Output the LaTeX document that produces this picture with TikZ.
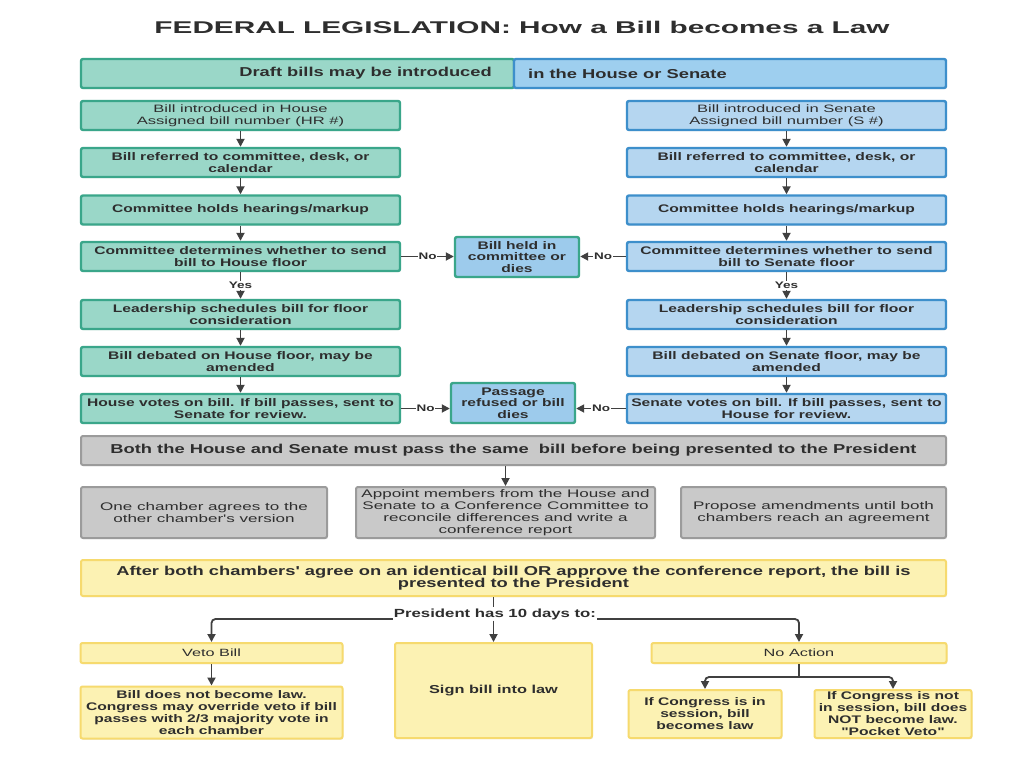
\documentclass[tikz,border=0pt]{standalone}
\usepackage{fontspec}
\setmainfont{Liberation Sans}
\newfontfamily\ttlfont{Liberation Sans}[FakeStretch=1.75]
\newfontfamily\bfont{Liberation Sans}[FakeStretch=1.42]
\newfontfamily\rfont{Liberation Sans}[FakeStretch=1.55]
\usetikzlibrary{arrows.meta,shadows}
\definecolor{txt}{HTML}{2E2E2E}
\definecolor{lnc}{HTML}{404040}
\definecolor{tealF}{HTML}{9AD7C8}
\definecolor{tealD}{HTML}{3AA68A}
\definecolor{blueF}{HTML}{B5D6F0}
\definecolor{blueD}{HTML}{3D8FCB}
\definecolor{bannerB}{HTML}{9ECFEF}
\definecolor{midF}{HTML}{9DCBEC}
\definecolor{grayF}{HTML}{C9C9C9}
\definecolor{grayD}{HTML}{9B9B9B}
\definecolor{yelF}{HTML}{FCF2B3}
\definecolor{yelD}{HTML}{F6DA6E}
\tikzset{
  box/.style={rectangle, rounded corners=2pt, line width=2.4pt, inner sep=0pt, align=center, text=txt,
    drop shadow={shadow xshift=0.8pt, shadow yshift=-1.2pt, opacity=0.18}},
  colbox/.style={box, minimum width=319pt, minimum height=29pt, font=\bfont\bfseries\fontsize{11}{12}\selectfont},
  hbox/.style={colbox, fill=tealF, draw=tealD},
  sbox/.style={colbox, fill=blueF, draw=blueD},
  midbox/.style={box, fill=midF, draw=tealD, minimum width=124pt, minimum height=40pt, font=\bfont\bfseries\fontsize{11}{11.5}\selectfont},
  graybox/.style={box, fill=grayF, draw=grayD, line width=2pt, minimum height=51pt, font=\rfont\fontsize{11}{12}\selectfont},
  yelbox/.style={box, fill=yelF, draw=yelD, line width=2pt, font=\bfont\bfseries\fontsize{11}{12}\selectfont},
  lab/.style={fill=white, inner sep=1pt, text=txt, font=\bfont\bfseries\fontsize{9.5}{9.5}\selectfont},
  ln/.style={draw=lnc, line width=1.8pt},
  arr/.style={ln, -{Triangle[length=8pt,width=8pt]}},
}
\begin{document}
\begin{tikzpicture}[x=1pt,y=-1pt]
\useasboundingbox[fill=white] (0,0) rectangle (1024,768);

\node[text=txt, font=\ttlfont\bfseries\fontsize{17}{20}\selectfont] (title) at (522,27) {FEDERAL LEGISLATION: How a Bill becomes a Law};

% top banner
\node[box, fill=tealF, draw=tealD, minimum width=433pt, minimum height=29pt] (bannerL) at (297.5,73.5) {};
\node[box, fill=bannerB, draw=blueD, minimum width=432pt, minimum height=29pt] (bannerR) at (730,73.5) {};
\node[anchor=east, inner sep=0pt, text=txt, font=\bfont\bfseries\fontsize{12.9}{13}\selectfont] (draftT) at (492,73.5) {Draft bills may be introduced};
\node[anchor=west, inner sep=0pt, text=txt, font=\bfont\bfseries\fontsize{12.9}{13}\selectfont] (houseT) at (528,73.5) {in the House or Senate};

% House column
\node[hbox, font=\rfont\fontsize{10.7}{12}\selectfont] (h1) at (240.5,115.5) {Bill introduced in House\\Assigned bill number (HR \#)};
\node[hbox] (h2) at (240.5,162.5) {Bill referred to committee, desk, or\\calendar};
\node[hbox] (h3) at (240.5,210) {Committee holds hearings/markup};
\node[hbox] (h4) at (240.5,256.5) {Committee determines whether to send\\bill to House floor};
\node[hbox] (h5) at (240.5,314.5) {Leadership schedules bill for floor\\consideration};
\node[hbox] (h6) at (240.5,361.5) {Bill debated on House floor, may be\\amended};
\node[hbox] (h7) at (240.5,408.5) {House votes on bill. If bill passes, sent to\\Senate for review.};

% Senate column
\node[sbox, font=\rfont\fontsize{10.7}{12}\selectfont] (s1) at (786.5,115.5) {Bill introduced in Senate\\Assigned bill number (S \#)};
\node[sbox] (s2) at (786.5,162.5) {Bill referred to committee, desk, or\\calendar};
\node[sbox] (s3) at (786.5,210) {Committee holds hearings/markup};
\node[sbox] (s4) at (786.5,256.5) {Committee determines whether to send\\bill to Senate floor};
\node[sbox] (s5) at (786.5,314.5) {Leadership schedules bill for floor\\consideration};
\node[sbox] (s6) at (786.5,361.5) {Bill debated on Senate floor, may be\\amended};
\node[sbox] (s7) at (786.5,408.5) {Senate votes on bill. If bill passes, sent to\\House for review.};

% middle
\node[midbox] (held) at (517,257) {Bill held in\\committee or\\dies};
\node[midbox] (pass) at (513,403) {Passage\\refused or bill\\dies};

% column arrows
\draw[arr] (h1) -- (h2);
\draw[arr] (h2) -- (h3);
\draw[arr] (h3) -- (h4);
\draw[arr] (h4) -- node[lab]{Yes} (h5);
\draw[arr] (h5) -- (h6);
\draw[arr] (h6) -- (h7);
\draw[arr] (s1) -- (s2);
\draw[arr] (s2) -- (s3);
\draw[arr] (s3) -- (s4);
\draw[arr] (s4) -- node[lab]{Yes} (s5);
\draw[arr] (s5) -- (s6);
\draw[arr] (s6) -- (s7);

\draw[arr] (h4.east) -- node[lab]{No} (h4.east -| held.west);
\draw[arr] (s4.west) -- node[lab]{No} (s4.west -| held.east);
\draw[arr] (h7.east) -- node[lab]{No} (h7.east -| pass.west);
\draw[arr] (s7.west) -- node[lab]{No} (s7.west -| pass.east);

% gray section
\node[graybox, minimum width=865pt, minimum height=29pt, font=\bfont\bfseries\fontsize{12.9}{13}\selectfont] (both) at (513.5,450.5) {Both the House and Senate must pass the same\ \ bill before being presented to the President};
\node[graybox, minimum width=246pt] (one) at (204,512.5) {One chamber agrees to the\\other chamber's version};
\node[graybox, minimum width=299pt] (appoint) at (505.5,512.5) {Appoint members from the House and\\Senate to a Conference Committee to\\reconcile differences and write a\\conference report};
\node[graybox, minimum width=265pt] (propose) at (813.5,512.5) {Propose amendments until both\\chambers reach an agreement};
\draw[arr] (appoint.north |- both.south) -- (appoint.north);

% yellow section
\node[yelbox, minimum width=865pt, minimum height=36pt, font=\bfont\bfseries\fontsize{12.9}{12.5}\selectfont] (yel) at (513.5,578) {After both chambers' agree on an identical bill OR approve the conference report, the bill is\\presented to the President};
\node[lab, font=\bfont\bfseries\fontsize{11.8}{12}\selectfont] (pres) at (495,614) {President has 10 days to:};
\node[yelbox, minimum width=262pt, minimum height=20pt, font=\rfont\fontsize{10.5}{12}\selectfont] (veto) at (211.5,653) {Veto Bill};
\node[yelbox, minimum width=197pt, minimum height=95pt, font=\bfont\bfseries\fontsize{11.5}{12}\selectfont] (sign) at (493.5,690.5) {Sign bill into law};
\node[yelbox, minimum width=295pt, minimum height=20pt, font=\rfont\fontsize{10.5}{12}\selectfont] (noact) at (799,653) {No Action};
\node[yelbox, minimum width=262pt, minimum height=52pt] (notlaw) at (211.5,712.5) {Bill does not become law.\\Congress may override veto if bill\\passes with 2/3 majority vote in\\each chamber};
\node[yelbox, minimum width=153pt, minimum height=48pt] (insess) at (705,714) {If Congress is in\\session, bill\\becomes law};
\node[yelbox, minimum width=157pt, minimum height=48pt] (notsess) at (893,714) {If Congress is not\\in session, bill does\\NOT become law.\\"Pocket Veto"};

\draw[ln] (yel.south -| sign.north) -- (pres.north -| sign.north);
\draw[arr] (pres.south -| sign.north) -- (sign.north);
\draw[arr, rounded corners=4pt] ([yshift=-5pt]pres.west) -| (veto.north);
\draw[arr, rounded corners=4pt] ([yshift=-5pt]pres.east) -| (noact.north);
\draw[arr] (veto) -- (notlaw);
\coordinate (nb) at (799,677);
\draw[ln] (noact.south) -- (nb);
\draw[arr, rounded corners=4pt] (nb) -| (insess.north);
\draw[arr, rounded corners=4pt] (nb) -| (notsess.north);
\end{tikzpicture}
\end{document}
